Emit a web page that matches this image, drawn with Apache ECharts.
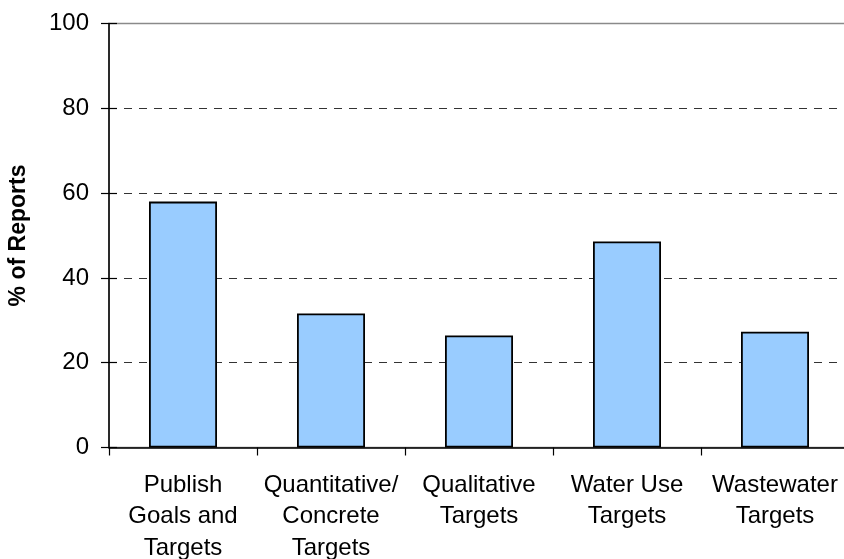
<!DOCTYPE html>
<html>
<head>
<meta charset="utf-8">
<script src="https://cdn.jsdelivr.net/npm/echarts@6/dist/echarts.min.js"></script>
<style>
  html, body { margin: 0; padding: 0; background: #fff; }
  #chart { width: 844px; height: 559px; }
</style>
</head>
<body>
<div id="chart"></div>
<script>
// Share of reports that publish each kind of goal/target
const categories = [
  'Publish\nGoals and\nTargets',
  'Quantitative/\nConcrete\nTargets',
  'Qualitative\nTargets',
  'Water Use\nTargets',
  'Wastewater\nTargets'
];
const percentOfReports = [58, 31.6, 26.4, 48.6, 27.3];
const yMin = 0, yMax = 100, yStep = 20;

const font = '"Liberation Sans", Arial, sans-serif';
const chart = echarts.init(document.getElementById('chart'), null, { renderer: 'canvas' });

chart.setOption({
  animation: false,
  backgroundColor: '#ffffff',
  grid: {
    left: 109, top: 23.5, width: 740, bottom: 111.5,
    outerBoundsMode: 'none',
    show: true, borderColor: '#8a8a8a', borderWidth: 1.5, backgroundColor: 'transparent'
  },
  xAxis: {
    type: 'category',
    data: categories,
    axisLine: { lineStyle: { color: '#000', width: 1.5 } },
    axisTick: { show: true, length: 8, lineStyle: { color: '#000', width: 1.2 } },
    axisLabel: {
      interval: 0, margin: 22, color: '#000',
      fontFamily: font, fontSize: 24, lineHeight: 31.5
    },
    splitLine: { show: false }
  },
  yAxis: [
    {
      type: 'value', position: 'left',
      min: yMin, max: yMax, interval: yStep,
      name: '% of Reports',
      nameLocation: 'middle', nameGap: 79,
      nameTextStyle: { color: '#000', fontFamily: font, fontSize: 23, fontWeight: 'bold' },
      axisLine: { show: true, lineStyle: { color: '#000', width: 1.5 } },
      axisTick: { show: true, length: 8, lineStyle: { color: '#000', width: 1.2 } },
      axisLabel: { margin: 20, color: '#000', fontFamily: font, fontSize: 24 },
      splitLine: {
        show: true, showMinLine: false, showMaxLine: false,
        lineStyle: { color: '#333', width: 1.2, type: [8, 7] }
      }
    },
    {
      // inner half of the crossing tick marks on the value axis
      type: 'value', position: 'left',
      min: yMin, max: yMax, interval: yStep,
      axisLine: { show: false },
      axisTick: { show: true, inside: true, length: 8, lineStyle: { color: '#000', width: 1.2 } },
      axisLabel: { show: false },
      splitLine: { show: false }
    }
  ],
  series: [{
    type: 'bar',
    yAxisIndex: 0,
    data: percentOfReports,
    barWidth: 68,
    itemStyle: { color: '#99ccff', borderColor: '#000', borderWidth: 1.8 }
  }]
});
</script>
</body>
</html>
